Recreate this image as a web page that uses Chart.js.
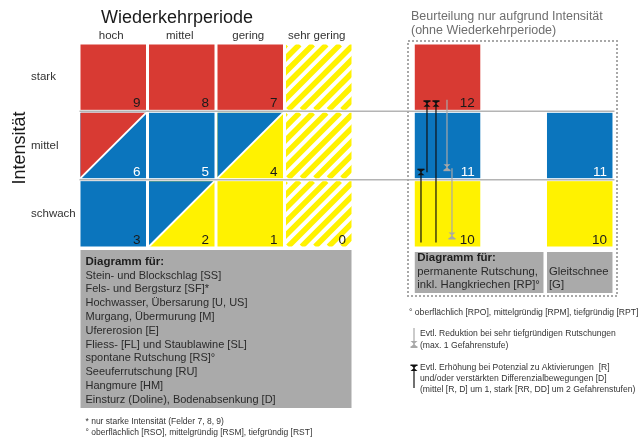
<!DOCTYPE html>
<html>
<head>
<meta charset="utf-8">
<script src="https://cdn.jsdelivr.net/npm/chart.js@4.4.0/dist/chart.umd.min.js"></script>
<style>
  html, body { margin: 0; padding: 0; background: #fff; }
  #wrap { width: 642px; height: 439px; }
</style>
</head>
<body>
<div id="wrap"><canvas id="matrix" width="642" height="439"></canvas></div>
<script>
// Spalten: Wiederkehrperiode, Zeilen: Intensität
const periods = ['hoch', 'mittel', 'gering', 'sehr gering'];
const intensities = ['stark', 'mittel', 'schwach'];

// Nummer der Felder (null = ohne Nummer)
const fieldNumbers = [
  [9, 8, 7, null],
  [6, 5, 4, null],
  [3, 2, 1, 0]
];

// Gefahrenstufe oben links / unten rechts (geteilte Felder)
const classUpper = [
  ['erheblich', 'erheblich', 'erheblich', 'rest'],
  ['erheblich', 'mittel', 'mittel', 'rest'],
  ['mittel', 'mittel', 'gering', 'rest']
];
const classLower = [
  ['erheblich', 'erheblich', 'erheblich', 'rest'],
  ['mittel', 'mittel', 'gering', 'rest'],
  ['mittel', 'gering', 'gering', 'rest']
];

// Beurteilung nur aufgrund Intensität
const rpNumbers = [12, 11, 10];
const rpClasses = ['erheblich', 'mittel', 'gering'];
const gNumbers = [null, 11, 10];
const gClasses = [null, 'mittel', 'gering'];

// Pfeile [von, nach] Feldnummer
const raiseArrows = [[10, 11], [11, 12], [10, 12]];
const lowerArrows = [[12, 11], [11, 10]];

const mainProcesses = [
  'Stein- und Blockschlag [SS]',
  'Fels- und Bergsturz [SF]*',
  'Hochwasser, Übersarung [U, US]',
  'Murgang, Übermurung [M]',
  'Ufererosion [E]',
  'Fliess- [FL] und Staublawine [SL]',
  'spontane Rutschung [RS]°',
  'Seeuferrutschung [RU]',
  'Hangmure [HM]',
  'Einsturz (Doline), Bodenabsenkung [D]'
];
const mainNotes = [
  '* nur starke Intensität (Felder 7, 8, 9)',
  '° oberflächlich [RSO], mittelgründig [RSM], tiefgründig [RST]'
];
const rpProcesses = ['permanente Rutschung,', 'inkl. Hangkriechen [RP]°'];
const gProcesses = ['Gleitschnee', '[G]'];
const rightNote = '° oberflächlich [RPO], mittelgründig [RPM], tiefgründig [RPT]';
const lowerText = ['Evtl. Reduktion bei sehr tiefgründigen Rutschungen', '(max. 1 Gefahrenstufe)'];
const raiseText = [
  'Evtl. Erhöhung bei Potenzial zu Aktivierungen  [R]',
  'und/oder verstärkten Differenzialbewegungen [D]',
  '(mittel [R, D] um 1, stark [RR, DD] um 2 Gefahrenstufen)'
];

const COLORS = { erheblich: '#d83a33', mittel: '#0b75bd', gering: '#fff200', rest: '#fff200' };
const FONT = '"Liberation Sans", Arial, sans-serif';
const GAP = 1.5;
const RP_COL = 4.88;   // Lage der Zusatzspalten in Spalteneinheiten
const G_COL = 6.81;

function hatch(ctx, x, y, w, h) {
  ctx.save();
  ctx.beginPath();
  ctx.rect(x, y, w, h);
  ctx.clip();
  ctx.fillStyle = '#fff';
  ctx.fillRect(x, y, w, h);
  ctx.strokeStyle = COLORS.rest;
  ctx.lineWidth = 5.5;
  for (let k = -h; k < w + h; k += 13.5) {
    ctx.beginPath();
    ctx.moveTo(x + k, y + h);
    ctx.lineTo(x + k + h, y);
    ctx.stroke();
  }
  ctx.restore();
}

function text(ctx, str, x, y, size, color, opts) {
  opts = opts || {};
  ctx.font = (opts.bold ? 'bold ' : '') + size + 'px ' + FONT;
  ctx.fillStyle = color;
  ctx.textAlign = opts.align || 'left';
  ctx.textBaseline = opts.baseline || 'middle';
  ctx.fillText(str, x, y);
}

function head(ctx, x, y, up, color) {
  // kleine Sanduhr-Spitze, y = Spitze
  const y0 = up ? y : y - 6;
  ctx.fillStyle = color;
  ctx.beginPath();
  ctx.moveTo(x - 3.5, y0); ctx.lineTo(x + 3.5, y0); ctx.lineTo(x, y0 + 3); ctx.closePath();
  ctx.moveTo(x - 3.5, y0 + 6); ctx.lineTo(x + 3.5, y0 + 6); ctx.lineTo(x, y0 + 3); ctx.closePath();
  ctx.fill();
  ctx.fillRect(x - 3.5, up ? y0 - 0.5 : y0 + 5.5, 7, 1.5);
}

function arrow(ctx, x, yFrom, yTo, color) {
  ctx.strokeStyle = color;
  ctx.lineWidth = 1.2;
  ctx.beginPath();
  ctx.moveTo(x, yFrom);
  ctx.lineTo(x, yTo);
  ctx.stroke();
  head(ctx, x, yTo, yTo < yFrom, color);
}

const matrixPlugin = {
  id: 'matrix',
  afterDraw(chart) {
    const ctx = chart.ctx;
    const xs = chart.scales.x, ys = chart.scales.y;
    const colL = c => xs.getPixelForValue(c) + GAP;
    const colR = c => xs.getPixelForValue(c + 1) - GAP;
    const rowT = r => ys.getPixelForValue(r) + GAP;
    const rowB = r => ys.getPixelForValue(r + 1) - GAP;
    ctx.save();

    function cell(c, r, upper, lower, num) {
      const l = colL(c), rr = colR(c), t = rowT(r), b = rowB(r);
      if (lower === 'rest') {
        hatch(ctx, l, t, rr - l, b - t);
      } else {
        ctx.fillStyle = COLORS[lower];
        ctx.fillRect(l, t, rr - l, b - t);
        if (upper !== lower) {
          ctx.fillStyle = COLORS[upper];
          ctx.beginPath();
          ctx.moveTo(l, t); ctx.lineTo(rr, t); ctx.lineTo(l, b); ctx.closePath();
          ctx.fill();
          ctx.strokeStyle = '#fff';
          ctx.lineWidth = 2;
          ctx.beginPath();
          ctx.moveTo(l, b); ctx.lineTo(rr, t);
          ctx.stroke();
        }
      }
      if (num !== null && num !== undefined) {
        // helle Zahl auf Blau, im Original ist die 3 dunkel
        const light = lower === 'mittel' && num !== 3;
        text(ctx, String(num), rr - 5.5, b - 2.5, 13.5, light ? '#fff' : '#1a1a1a',
          { align: 'right', baseline: 'alphabetic' });
      }
    }

    // Matrix
    intensities.forEach((row, r) => {
      periods.forEach((p, c) => {
        cell(c, r, classUpper[r][c], classLower[r][c], fieldNumbers[r][c]);
      });
    });
    // nur Intensität
    rpNumbers.forEach((n, r) => cell(RP_COL, r, rpClasses[r], rpClasses[r], n));
    gNumbers.forEach((n, r) => {
      if (gClasses[r]) cell(G_COL, r, gClasses[r], gClasses[r], n);
    });

    // Trennlinien zwischen Intensitäten
    ctx.strokeStyle = '#b4b4b4';
    ctx.lineWidth = 1.5;
    [1, 2].forEach(v => {
      const y = ys.getPixelForValue(v);
      ctx.beginPath();
      ctx.moveTo(colL(0) - 1, y);
      ctx.lineTo(colR(G_COL) + 2, y);
      ctx.stroke();
    });

    // Pfeile
    const rowOf = n => 12 - n;
    const raiseX = [6.2, 12.2, 21.2];
    const lowerX = [32.2, 37.2];
    raiseArrows.forEach((a, i) => {
      const from = rowB(rowOf(a[0])) - (a[0] === 10 ? 4 : 6);
      const to = rowB(rowOf(a[1])) - 9;
      arrow(ctx, colL(RP_COL) + raiseX[i], from, to, '#111');
    });
    lowerArrows.forEach((a, i) => {
      const from = rowB(rowOf(a[0])) - 10;
      const to = rowB(rowOf(a[1])) - 8;
      arrow(ctx, colL(RP_COL) + lowerX[i], from, to, '#a8a8a8');
    });

    // Achsentexte
    text(ctx, 'Wiederkehrperiode', 177, 18, 18, '#1a1a1a', { align: 'center' });
    periods.forEach((p, c) => {
      text(ctx, p, (colL(c) + colR(c)) / 2 - 2, 36, 11.5, '#333', { align: 'center' });
    });
    intensities.forEach((s, r) => {
      text(ctx, s, 31, ys.getPixelForValue(r + 0.5), 11.5, '#333');
    });
    ctx.save();
    ctx.translate(20, 148);
    ctx.rotate(-Math.PI / 2);
    text(ctx, 'Intensität', 0, 0, 18, '#1a1a1a', { align: 'center' });
    ctx.restore();

    // Titel rechts
    text(ctx, 'Beurteilung nur aufgrund Intensität', 411, 17, 12.5, '#6e6e6e');
    text(ctx, '(ohne Wiederkehrperiode)', 411, 31, 12.5, '#6e6e6e');

    // gepunkteter Rahmen
    ctx.strokeStyle = '#a8a8a8';
    ctx.lineWidth = 2;
    ctx.setLineDash([2, 2]);
    ctx.strokeRect(408, 41, 209, 255);
    ctx.setLineDash([]);

    // graue Kästen
    const boxTop = ys.getPixelForValue(3) + 2;
    ctx.fillStyle = '#aaaaaa';
    ctx.fillRect(colL(0), boxTop, colR(3) - colL(0), 158);
    ctx.fillRect(colL(RP_COL), boxTop + 2, colL(G_COL) - 3.5 - colL(RP_COL), 41);
    ctx.fillRect(colL(G_COL), boxTop + 2, colR(G_COL) - colL(G_COL), 41);

    const lx = colL(0) + 5;
    text(ctx, 'Diagramm für:', lx, 262, 11.5, '#1e1e1e', { bold: true });
    mainProcesses.forEach((s, i) => text(ctx, s, lx, 275.5 + i * 13.8, 11, '#2a2a2a'));
    mainNotes.forEach((s, i) => text(ctx, s, lx, 422 + i * 11, 8.5, '#333'));

    const rx = colL(RP_COL) + 2.5;
    text(ctx, 'Diagramm für:', rx, 258, 11.5, '#1e1e1e', { bold: true });
    rpProcesses.forEach((s, i) => text(ctx, s, rx, 272 + i * 13, 11.3, '#2a2a2a'));
    gProcesses.forEach((s, i) => text(ctx, s, colL(G_COL) + 2, 272 + i * 13, 11.3, '#2a2a2a'));

    // Legende rechts
    text(ctx, rightNote, 409, 313, 8.6, '#333');
    arrow(ctx, 414, 328, 347, '#a8a8a8');
    lowerText.forEach((s, i) => text(ctx, s, 420, 334 + i * 11.5, 8.6, '#333'));
    arrow(ctx, 414, 388, 365, '#111');
    raiseText.forEach((s, i) => text(ctx, s, 420, 368 + i * 11, 8.6, '#333'));

    ctx.restore();
  }
};

const chart = new Chart(document.getElementById('matrix').getContext('2d'), {
  type: 'scatter',
  data: { datasets: [] },
  options: {
    responsive: false,
    animation: false,
    layout: { padding: { left: 79, right: 289, top: 43, bottom: 191 } },
    plugins: { legend: { display: false }, tooltip: { enabled: false } },
    scales: {
      x: { type: 'linear', min: 0, max: 4, display: false },
      y: { type: 'linear', min: 0, max: 3, reverse: true, display: false }
    }
  },
  plugins: [matrixPlugin]
});
</script>
</body>
</html>
